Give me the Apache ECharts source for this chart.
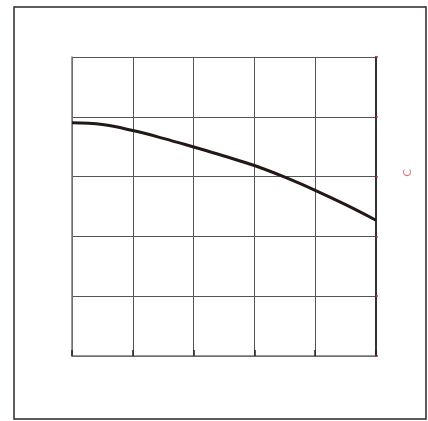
<!DOCTYPE html>
<html>
<head>
<meta charset="utf-8">
<script src="https://cdn.jsdelivr.net/npm/echarts@6/dist/echarts.min.js"></script>
<style>
  html, body { margin: 0; padding: 0; background: #fff; }
  #chart { width: 428px; height: 421px; }
</style>
</head>
<body>
<div id="chart"></div>
<script>
// curve, x in grid columns, y in grid rows
var xValues = [0, 0.5, 1, 1.5, 2, 2.5, 3, 3.5, 4, 4.5, 5];
var yValues = [3.90, 3.87, 3.77, 3.64, 3.495, 3.345, 3.185, 2.99, 2.77, 2.53, 2.27];
var axisName = 'C';

var curve = xValues.map(function (x, i) { return [x, yValues[i]]; });

var gridLine = { show: true, lineStyle: { color: '#555', width: 1 } };

var option = {
    backgroundColor: '#fff',
    animation: false,
    grid: { left: 72, top: 57, right: 52, bottom: 65, containLabel: false },
    xAxis: {
        type: 'value',
        min: 0, max: 5, interval: 1,
        axisLine: { show: true, lineStyle: { color: '#777', width: 1.5 } },
        axisTick: { show: true, inside: true, length: 6, lineStyle: { color: '#222', width: 1.5 } },
        axisLabel: { show: false },
        splitLine: gridLine
    },
    yAxis: [
        {
            type: 'value',
            min: 0, max: 5, interval: 1,
            axisLine: { show: true, lineStyle: { color: '#777', width: 1.5 } },
            axisTick: { show: false },
            axisLabel: { show: false },
            splitLine: gridLine
        },
        {
            type: 'value',
            position: 'right',
            min: 0, max: 5, interval: 1,
            axisLine: { show: true, lineStyle: { color: '#333', width: 2 } },
            axisTick: { show: true, length: 2, lineStyle: { color: '#e03030', width: 1.5 } },
            axisLabel: { show: false },
            splitLine: { show: false }
        }
    ],
    graphic: [
        {
            type: 'rect',
            shape: { x: 14, y: 7, width: 412, height: 412 },
            style: { fill: 'none', stroke: '#2e2626', lineWidth: 1.5 },
            silent: true
        },
        {
            type: 'text',
            x: 408, y: 173,
            rotation: Math.PI / 2,
            style: {
                text: axisName,
                fill: '#e86a6a',
                fontSize: 11,
                fontFamily: 'DejaVu Sans',
                align: 'center',
                verticalAlign: 'middle'
            }
        }
    ],
    series: [
        {
            type: 'line',
            data: curve,
            smooth: 0.4,
            showSymbol: false,
            lineStyle: { color: '#231815', width: 3 },
            z: 5
        }
    ]
};

var myChart = echarts.init(document.getElementById('chart'));
myChart.setOption(option);
</script>
</body>
</html>
